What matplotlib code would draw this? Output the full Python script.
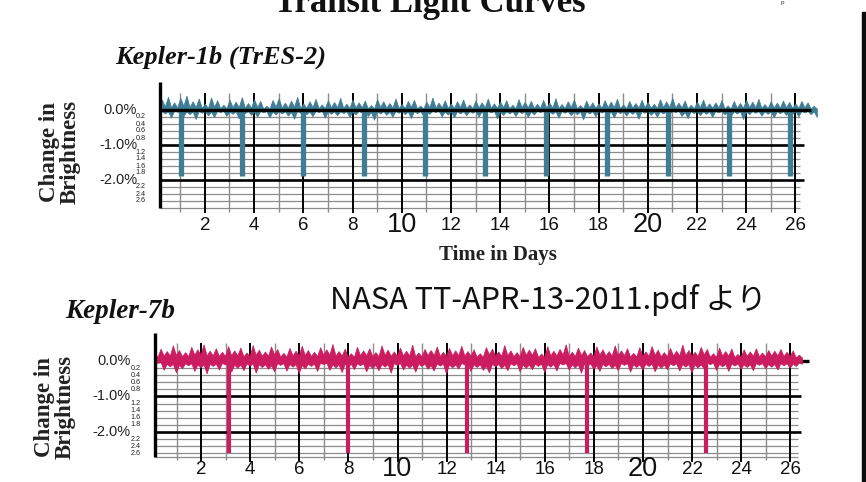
import numpy as np
import matplotlib
matplotlib.use("Agg")
import matplotlib.pyplot as plt
from matplotlib.patches import Rectangle

# ---------------- data ----------------
days_even = [2, 4, 6, 8, 10, 12, 14, 16, 18, 20, 22, 24, 26]
days_odd = [1, 3, 5, 7, 9, 11, 13, 15, 17, 19, 21, 23, 25]
big_days = [10, 20]
major_pct = [0.0, -1.0, -2.0]
major_labels = ["0.0%", "-1.0%", "-2.0%"]
minor_pct = [-0.2, -0.4, -0.6, -0.8, -1.2, -1.4, -1.6, -1.8, -2.2, -2.4, -2.6]
minor_labels = ["0.2", "0.4", "0.6", "0.8", "1.2", "1.4", "1.6", "1.8", "2.2", "2.4", "2.6"]

# Kepler-1b (TrES-2)
k1_transit_days = [1.03, 3.50, 5.98, 8.45, 10.93, 13.40, 15.88, 18.35, 20.83, 23.30, 25.78]
k1_depth = 1.88
k1_t0, k1_dt = 0.25, 0.25
k1_upper = [0.30, 0.38, 0.22, 0.35, 0.41, 0.25, 0.33, 0.18, 0.36, 0.28,
            0.15, 0.30, 0.24, 0.37, 0.20, 0.31, 0.26, 0.12, 0.29, 0.34,
            0.21, 0.27, 0.38, 0.19, 0.25, 0.32, 0.16, 0.28, 0.23, 0.35,
            0.18, 0.30, 0.22, 0.27, 0.14, 0.31, 0.25, 0.20, 0.33, 0.17,
            0.26, 0.29, 0.13, 0.24, 0.36, 0.21, 0.28, 0.18, 0.25, 0.30,
            0.16, 0.27, 0.22, 0.33, 0.19, 0.24, 0.28, 0.15, 0.31, 0.23,
            0.26, 0.18, 0.29, 0.21, 0.34, 0.17, 0.25, 0.30, 0.14, 0.27,
            0.22, 0.19, 0.28, 0.24, 0.32, 0.16, 0.26, 0.20, 0.29, 0.23,
            0.18, 0.31, 0.25, 0.35, 0.21, 0.27, 0.15, 0.24, 0.30, 0.19,
            0.22, 0.28, 0.13, 0.26, 0.20, 0.29, 0.24, 0.32, 0.17, 0.25,
            0.21, 0.27, 0.23, 0.19, 0.26, 0.22, 0.12]
k1_lower = [-0.10, -0.22, -0.05, -0.18, -0.12, -0.26, -0.08, -0.15, -0.20, -0.06,
            -0.17, -0.11, -0.24, -0.09, -0.14, -0.19, -0.07, -0.21, -0.13, -0.10,
            -0.16, -0.25, -0.08, -0.12, -0.18, -0.06, -0.22, -0.11, -0.15, -0.09,
            -0.20, -0.13, -0.07, -0.17, -0.28, -0.10, -0.14, -0.19, -0.08, -0.12,
            -0.23, -0.09, -0.16, -0.11, -0.06, -0.18, -0.13, -0.21, -0.10, -0.15,
            -0.08, -0.19, -0.12, -0.07, -0.24, -0.14, -0.10, -0.17, -0.09, -0.20,
            -0.13, -0.06, -0.16, -0.11, -0.22, -0.08, -0.15, -0.12, -0.27, -0.10,
            -0.18, -0.07, -0.13, -0.21, -0.09, -0.16, -0.11, -0.25, -0.08, -0.14,
            -0.19, -0.10, -0.12, -0.06, -0.17, -0.23, -0.09, -0.15, -0.11, -0.20,
            -0.07, -0.13, -0.18, -0.10, -0.26, -0.12, -0.08, -0.16, -0.11, -0.21,
            -0.09, -0.14, -0.10, -0.18, -0.07, -0.12, -0.20]

# Kepler-7b
k7_transit_days = [3.14, 7.99, 12.85, 17.71, 22.57]
k7_depth = 2.58
k7_t0, k7_dt = 0.10, 0.25
k7_upper = [0.22, 0.35, 0.28, 0.44, 0.31, 0.25, 0.40, 0.33, 0.47, 0.29,
            0.36, 0.26, 0.42, 0.30, 0.38, 0.24, 0.45, 0.32, 0.27, 0.41,
            0.34, 0.23, 0.37, 0.29, 0.43, 0.31, 0.26, 0.39, 0.33, 0.48,
            0.28, 0.35, 0.22, 0.40, 0.30, 0.36, 0.25, 0.44, 0.32, 0.27,
            0.38, 0.29, 0.46, 0.24, 0.34, 0.31, 0.41, 0.26, 0.37, 0.30,
            0.43, 0.28, 0.33, 0.22, 0.39, 0.35, 0.27, 0.45, 0.30, 0.25,
            0.40, 0.32, 0.36, 0.21, 0.42, 0.29, 0.34, 0.47, 0.26, 0.38,
            0.31, 0.24, 0.41, 0.33, 0.28, 0.44, 0.30, 0.36, 0.23, 0.39,
            0.27, 0.42, 0.32, 0.25, 0.37, 0.29, 0.46, 0.31, 0.26, 0.40,
            0.34, 0.22, 0.38, 0.28, 0.35, 0.20, 0.33, 0.27, 0.36, 0.24,
            0.31, 0.29, 0.34, 0.26, 0.30, 0.18]
k7_lower = [-0.05, -0.25, -0.15, -0.32, -0.20, -0.12, -0.28, -0.18, -0.35, -0.14,
            -0.24, -0.10, -0.30, -0.19, -0.26, -0.13, -0.33, -0.17, -0.22, -0.29,
            -0.11, -0.27, -0.16, -0.34, -0.21, -0.14, -0.28, -0.09, -0.25, -0.18,
            -0.31, -0.15, -0.23, -0.12, -0.29, -0.20, -0.26, -0.16, -0.33, -0.11,
            -0.24, -0.19, -0.30, -0.14, -0.22, -0.27, -0.13, -0.35, -0.18, -0.21,
            -0.10, -0.28, -0.17, -0.25, -0.32, -0.15, -0.20, -0.26, -0.12, -0.29,
            -0.19, -0.23, -0.14, -0.31, -0.16, -0.27, -0.10, -0.24, -0.18, -0.33,
            -0.13, -0.22, -0.28, -0.15, -0.20, -0.26, -0.11, -0.30, -0.17, -0.24,
            -0.14, -0.29, -0.19, -0.23, -0.12, -0.27, -0.16, -0.32, -0.18, -0.21,
            -0.09, -0.25, -0.15, -0.28, -0.13, -0.22, -0.17, -0.26, -0.11, -0.20,
            -0.16, -0.24, -0.12, -0.19, -0.14, -0.08]

W, H = 866, 482
fig = plt.figure(figsize=(W / 100, H / 100), dpi=100)
fig.patch.set_facecolor("white")

SERIF = ["Liberation Serif", "DejaVu Serif"]
SANS = ["Liberation Sans", "DejaVu Sans"]


def px_axes(x0, y0, x_per_day, y_per_pct):
    xl, xr = -6.0, 28.0
    yt, yb = 1.0, -3.6
    left = x0 + xl * x_per_day
    right = x0 + xr * x_per_day
    top = y0 - yt * y_per_pct
    bot = y0 - yb * y_per_pct
    ax = fig.add_axes([left / W, 1 - bot / H, (right - left) / W, (bot - top) / H])
    ax.set_xlim(xl, xr)
    ax.set_ylim(yb, yt)
    ax.axis("off")
    return ax


def spiky_band(t0, dt, upper, lower, valley):
    """Band whose top edge peaks at the upper samples and bottom edge dips at the
    lower samples (offset by half a step), giving a jagged noise band."""
    up = np.asarray(upper, float)
    lo = np.asarray(lower, float)
    n = len(up)
    tz = t0 + 0.5 * dt * np.arange(2 * n)
    top = np.empty(2 * n)
    bot = np.empty(2 * n)
    top[0::2] = up
    top[1::2] = valley * np.minimum(up, np.append(up[1:], up[-1]))
    bot[1::2] = lo
    bot[0::2] = valley * np.maximum(lo, np.insert(lo[:-1], 0, lo[0]))
    return tz, top, bot


def panel(ax, color, t0, dt, upper, lower, valley, tdays, depth, bar_lw,
          x_axis, x_grid_end, y_bottom, zero_on_top, lab_x, minor_lab_x, xlab_y):
    tz, top, bot = spiky_band(t0, dt, upper, lower, valley)
    # minor horizontal grid
    ax.hlines(minor_pct + [y_bottom], x_axis, x_grid_end, color="#8c8c8c", lw=0.9, zorder=1)
    # vertical grid
    ax.vlines(days_odd, y_bottom - 0.1, 0.5, color="#8c8c8c", lw=1.0, zorder=1)
    ax.vlines(days_even, y_bottom - 0.15, 0.5, color="black", lw=1.4, zorder=2)
    # major horizontal
    ax.hlines([-1.0, -2.0], x_axis, x_grid_end + 0.15, color="black", lw=1.9, zorder=2)
    ax.hlines([0.0], x_axis, x_grid_end + 0.45, color="black", lw=2.4,
              zorder=5 if zero_on_top else 2)
    # left axis
    ax.vlines([x_axis], y_bottom, 0.8, color="black", lw=2.4, zorder=6)
    # light curve band
    ax.fill_between(tz, bot, top, color=color, lw=0.5, edgecolor=color, zorder=4)
    ax.vlines(tdays, -depth, 0.0, color=color, lw=bar_lw, zorder=4)
    # labels
    for v, s in zip(major_pct, major_labels):
        ax.text(lab_x, v, s, ha="right", va="center", fontsize=10.5, family=SANS, color="#222")
    for v, s in zip(minor_pct, minor_labels):
        ax.text(minor_lab_x, v, s, ha="right", va="center", fontsize=5.2, family=SANS,
                color="#222")
    for d in days_even:
        big = d in big_days
        ax.text(d, xlab_y, str(d), ha="center", va="center",
                fontsize=19.5 if big else 13.5, family=SANS, color="#111", clip_on=False)


# top panel: day0 at px 155.7, 24.6 px/day ; 0% at px 110, 35 px/%
ax1 = px_axes(155.7, 110, 24.6, 35.0)
panel(ax1, "#3f7d95", k1_t0, k1_dt, k1_upper, k1_lower, 0.35, k1_transit_days, k1_depth, 3.8,
      0.17, 26.2, -2.8, True, -0.76, -0.40, -3.30)

# bottom panel: day0 at px 152, 24.55 px/day ; 0% at px 361, 35.5 px/%
ax2 = px_axes(152.0, 361, 24.55, 35.5)
panel(ax2, "#cc1c60", k7_t0, k7_dt, k7_upper, k7_lower, 0.55, k7_transit_days, k7_depth, 3.0,
      0.12, 26.3, -2.7, False, -0.88, -0.45, -3.05)

# ---------------- texts ----------------
def ftext(x, y, s, **kw):
    fig.text(x / W, 1 - y / H, s, **kw)

ftext(430, 12, "Transit Light Curves", ha="center", va="baseline", fontsize=25,
      family=SERIF, weight="bold", color="#111")
ftext(783, 4, "p", ha="center", va="baseline", fontsize=5, family=SERIF, color="#333")
ftext(115, 57, "Kepler-1b (TrES-2)", ha="left", va="center", fontsize=19,
      family=SERIF, weight="bold", style="italic", color="#111")
ftext(65, 311, "Kepler-7b", ha="left", va="center", fontsize=19.5,
      family=SERIF, weight="bold", style="italic", color="#111")
ftext(498, 255, "Time in Days", ha="center", va="center", fontsize=15,
      family=SERIF, weight="bold", color="#222")
ftext(60, 152, "Change in\nBrightness", ha="center", va="center", rotation=90,
      fontsize=16.5, family=SERIF, weight="bold", color="#222", linespacing=0.95)
ftext(55, 407, "Change in\nBrightness", ha="center", va="center", rotation=90,
      fontsize=16.5, family=SERIF, weight="bold", color="#222", linespacing=0.95)
ftext(548, 300, "NASA TT-APR-13-2011.pdf より", ha="center", va="center", fontsize=22,
      family=["Noto Sans CJK JP", "DejaVu Sans"], color="#111")

# dark right edge
fig.patches.append(Rectangle((862 / W, 0), 4 / W, 1 - 12 / H, transform=fig.transFigure,
                             color="#0d0d0d", zorder=10))

fig.savefig("out.png", dpi=100)
